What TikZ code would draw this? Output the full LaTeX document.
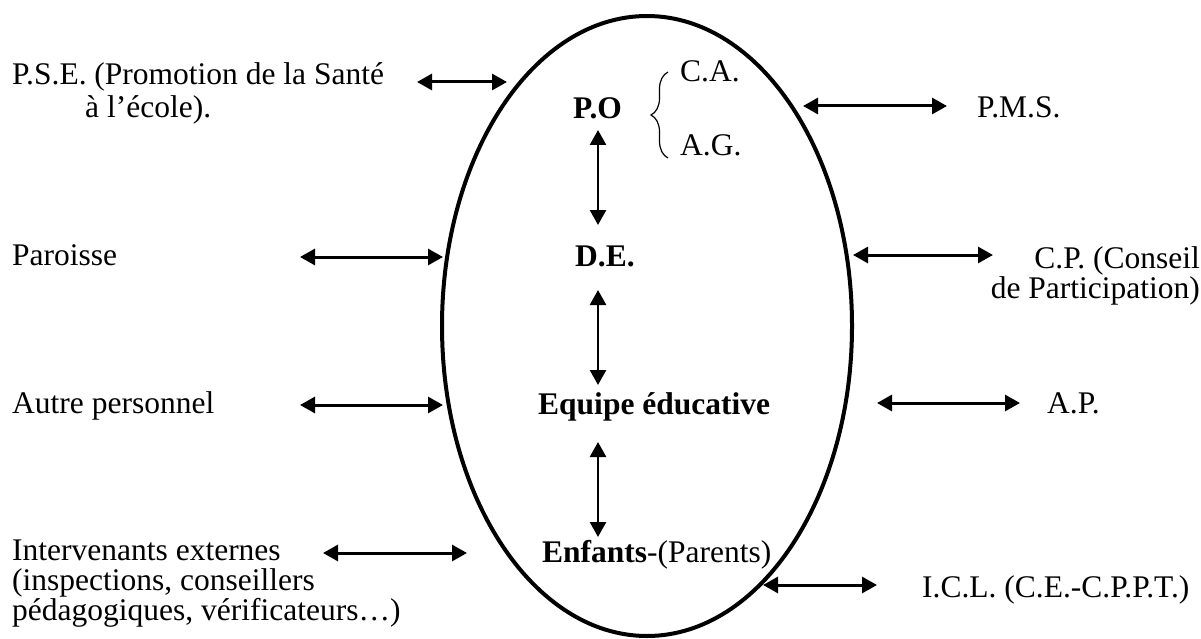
\documentclass[tikz,border=0pt]{standalone}
\usepackage{fontspec}
\setmainfont{Liberation Serif}
\usepackage{tikz}
\usetikzlibrary{arrows.meta}
\usetikzlibrary{shapes.geometric, decorations.pathreplacing}

\begin{document}
\begin{tikzpicture}[x=1pt, y=-1pt,
    every node/.style={inner sep=0pt, font=\fontsize{31.5}{30}\selectfont},
    lien/.style={arrows={Triangle[length=15pt, width=16pt]-Triangle[length=15pt, width=16pt]}, line width=3pt}]
    \useasboundingbox (0,0) rectangle (1201,639);

    % Ecole
    \node[draw, ellipse, line width=4pt, minimum width=410pt, minimum height=620pt] (ecole) at (647,326) {};

    % Acteurs internes
    \node[anchor=base west] (po) at (573,119) {\textbf{P.O}};
    \node[anchor=base west] (ca) at (680,82) {C.A.};
    \node[anchor=base west] (ag) at (680,156) {A.G.};
    \node[anchor=base west] (de) at (575,266) {\textbf{D.E.}};
    \node[anchor=base west] (equipe) at (538,414) {\textbf{Equipe éducative}};
    \node[anchor=base west] (enfants) at (542,562) {\textbf{Enfants}-(Parents)};
    \draw[decorate, decoration={brace, amplitude=17pt}, line width=1.2pt] (668,158) -- (668,72);

    % Partenaires externes (base = derniere ligne)
    \node[anchor=base west, align=left] (pse) at (12,118) {P.S.E. (Promotion de la Santé\\[3pt]\hspace*{73pt}à l’école).};
    \node[anchor=base west] (paroisse) at (12,265) {Paroisse};
    \node[anchor=base west] (autre) at (12,413) {Autre personnel};
    \node[anchor=base west, align=left] (interv) at (12,620) {Intervenants externes\\(inspections, conseillers\\pédagogiques, vérificateurs…)};
    \node[anchor=base west] (pms) at (977,118) {P.M.S.};
    \node[anchor=base east, align=right] (cp) at (1200,298) {C.P. (Conseil\\de Participation)};
    \node[anchor=base west] (ap) at (1047,413) {A.P.};
    \node[anchor=base west] (icl) at (922,597) {I.C.L. (C.E.-C.P.P.T.)};

    % Extremites des fleches
    \coordinate (pse-a) at (417,82);    \coordinate (pse-b) at (507,82);
    \coordinate (par-a) at (300,257);   \coordinate (par-b) at (443,257);
    \coordinate (aut-a) at (300,405);   \coordinate (aut-b) at (443,405);
    \coordinate (int-a) at (323,553);   \coordinate (int-b) at (467,553);
    \coordinate (pms-a) at (803,106);   \coordinate (pms-b) at (947,106);
    \coordinate (cp-a) at (853,255);    \coordinate (cp-b) at (993,255);
    \coordinate (ap-a) at (877,403);    \coordinate (ap-b) at (1020,403);
    \coordinate (icl-a) at (763,585);   \coordinate (icl-b) at (877,585);
    \coordinate (po-s) at (598,130);    \coordinate (de-n) at (598,225);
    \coordinate (de-s) at (598,290);    \coordinate (eq-n) at (598,385);
    \coordinate (eq-s) at (598,442);    \coordinate (enf-n) at (598,537);

    % Fleches horizontales
    \draw[lien] (pse-a) -- (pse-b);
    \draw[lien] (par-a) -- (par-b);
    \draw[lien] (aut-a) -- (aut-b);
    \draw[lien] (int-a) -- (int-b);
    \draw[lien] (pms-a) -- (pms-b);
    \draw[lien] (cp-a) -- (cp-b);
    \draw[lien] (ap-a) -- (ap-b);
    \draw[lien] (icl-a) -- (icl-b);

    % Fleches verticales
    \draw[lien, line width=2.5pt] (po-s) -- (de-n);
    \draw[lien, line width=2.5pt] (de-s) -- (eq-n);
    \draw[lien, line width=2.5pt] (eq-s) -- (enf-n);
\end{tikzpicture}
\end{document}
